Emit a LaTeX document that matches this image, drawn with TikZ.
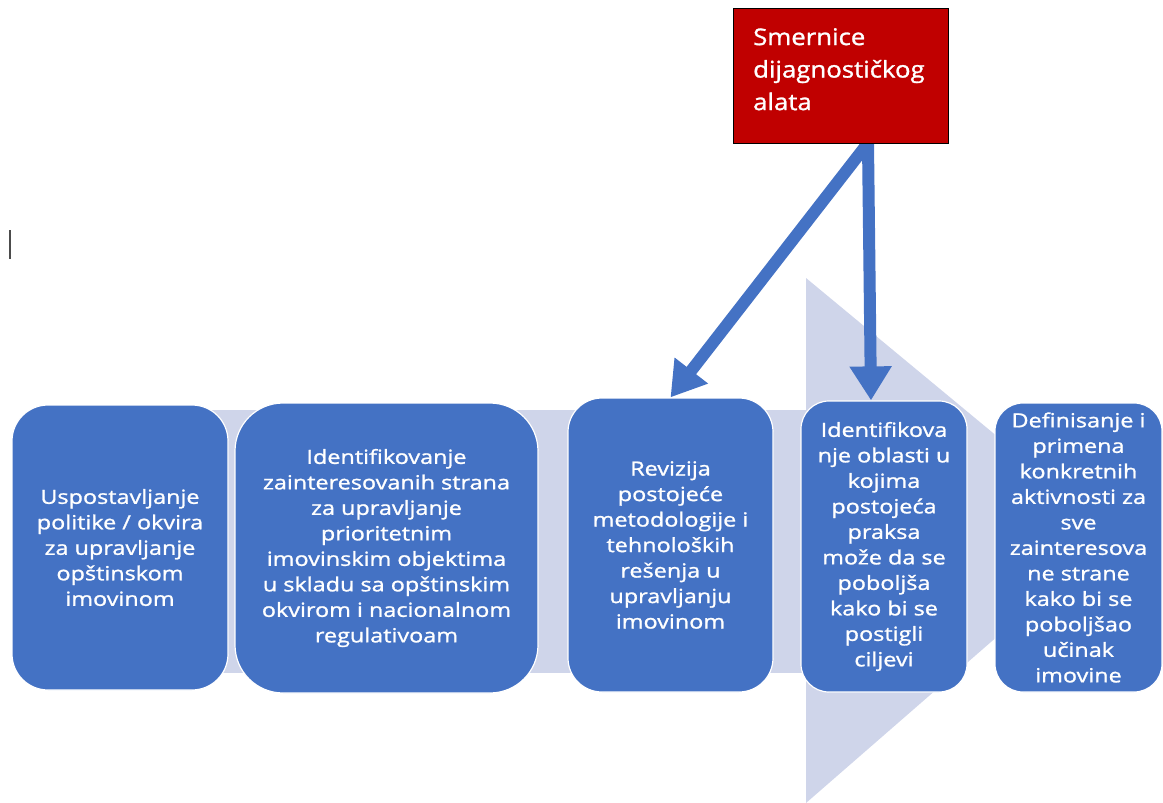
\documentclass[tikz,border=0pt]{standalone}
\usepackage{fontspec}
\setmainfont{Open Sans}[FakeStretch=1.12]
\newfontfamily\korakfont{Open Sans}[FakeStretch=1.2,FakeBold=1.2]
\newfontfamily\smernicefont{Open Sans}[FakeStretch=1.12,FakeBold=1.2]
\usetikzlibrary{arrows.meta}

\definecolor{korakplava}{HTML}{4472C4}
\definecolor{pozadina}{HTML}{CFD5EA}
\definecolor{smernicecrvena}{HTML}{C00000}

\begin{document}
\begin{tikzpicture}[x=1pt,y=-1pt]
    \tikzstyle{korak}=[rectangle, fill=korakplava, draw=white, line width=1.2pt, text=white, align=center, inner sep=0pt, font=\korakfont\fontsize{19.5}{25.5}\selectfont]
    \tikzstyle{smernica}=[rectangle, fill=smernicecrvena, draw=black, line width=1pt, minimum width=215pt, minimum height=135pt]
    \tikzstyle{strelica}=[draw=korakplava, line width=12pt, -{Triangle[length=34pt,width=40pt]}]

    \useasboundingbox (0,0) rectangle (1163,803);

    %%% BACKGROUND ARROW
    \fill[pozadina] (100,410) rectangle (806,673);
    \fill[pozadina] (806,278) -- (1115,534) -- (806,803) -- cycle;

    %%% DRAW THE STEPS
    \node[korak, minimum width=216pt, minimum height=285pt, rounded corners=36pt] (uspostavljanje) at (120,547.5)
        {Uspostavljanje\\politike / okvira\\za upravljanje\\opštinskom\\imovinom};
    \node[korak, minimum width=303pt, minimum height=290pt, rounded corners=48pt] (identifikovanje) at (386.5,548)
        {Identifikovanje\\zainteresovanih strana\\za upravljanje\\prioritetnim\\imovinskim objektima\\u skladu sa opštinskim\\okvirom i nacionalnom\\regulativoam};
    \node[korak, minimum width=205pt, minimum height=294pt, rounded corners=34pt] (revizija) at (670.5,545)
        {Revizija\\postojeće\\metodologije i\\tehnoloških\\rešenja u\\upravljanju\\imovinom};
    \node[korak, minimum width=166pt, minimum height=291pt, rounded corners=28pt] (oblasti) at (884,546.5)
        {Identifikova\\nje oblasti u\\kojima\\postojeća\\praksa\\može da se\\poboljša\\kako bi se\\postigli\\ciljevi};
    \node[korak, minimum width=167pt, minimum height=289pt, rounded corners=28pt] (definisanje) at (1078.5,547.5)
        {Definisanje i\\primena\\konkretnih\\aktivnosti za\\sve\\zainteresova\\ne strane\\kako bi se\\poboljšao\\učinak\\imovine};

    %%% DRAW THE PATHS
    \coordinate (izvor) at (868,143);
    \draw[strelica] (izvor) -- (revizija.north);
    \draw[strelica] (izvor) -- ([xshift=-13pt]oblasti.north);

    %%% GUIDELINES
    \node[smernica] (smernice) at (840.5,75.5) {};
    \node[anchor=north west, inner sep=0pt, text=white, align=left, font=\smernicefont\fontsize{23}{32.5}\selectfont] (smernice tekst) at (753,28)
        {Smernice\\dijagnostičkog\\alata};

    % text cursor left in the slide
    \draw[line width=2.5pt, black!70] (10,230) -- (10,259);

\end{tikzpicture}
\end{document}
